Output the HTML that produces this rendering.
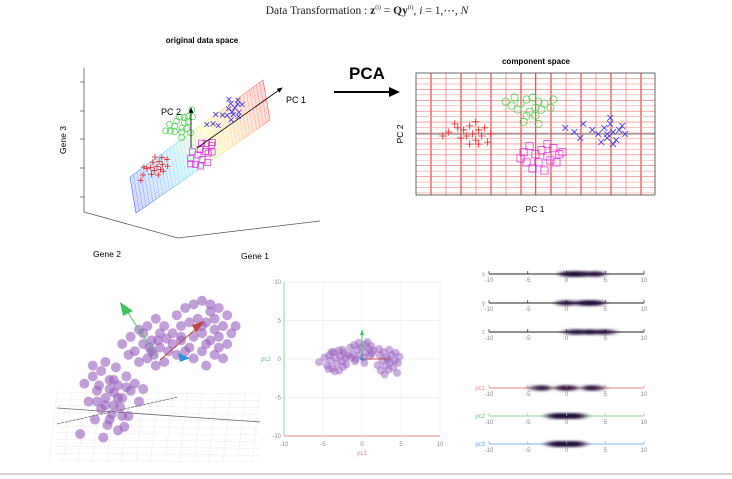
<!DOCTYPE html>
<html><head><meta charset="utf-8">
<style>
html,body{margin:0;padding:0;background:#fff;}
svg{display:block;font-family:"Liberation Sans",sans-serif;}
.tk{font-size:6px;fill:#888;}
</style></head>
<body>
<svg id="root" width="732" height="479" viewBox="0 0 732 479" xmlns="http://www.w3.org/2000/svg">
<defs>
 <linearGradient id="pg" x1="130" y1="195" x2="266" y2="100" gradientUnits="userSpaceOnUse">
  <stop offset="0" stop-color="#1030ff"/><stop offset="0.35" stop-color="#30d0ff"/>
  <stop offset="0.6" stop-color="#ffee30"/><stop offset="1" stop-color="#ff2020"/>
 </linearGradient>
 <filter id="blur" x="-50%" y="-200%" width="200%" height="500%"><feGaussianBlur stdDeviation="3 1.2"/></filter>
 <marker id="ah" markerWidth="8" markerHeight="8" refX="6" refY="3" orient="auto"><path d="M0,0 L7,3 L0,6 z" fill="#000"/></marker>
</defs>

<text x="367" y="14" text-anchor="middle" font-family="Liberation Serif,serif" font-size="11.5" fill="#222">Data Transformation : <tspan font-weight="bold">z</tspan><tspan font-size="6" dy="-5">(i)</tspan><tspan dy="5"> = </tspan><tspan font-weight="bold">Qy</tspan><tspan font-size="6" dy="-5">(i)</tspan><tspan dy="5">,  </tspan><tspan font-style="italic">i</tspan> = 1,⋯, <tspan font-style="italic">N</tspan></text>

<g>
 <text x="202" y="43" text-anchor="middle" font-size="8" font-weight="bold">original data space</text>
 <g stroke="#555" stroke-width="0.8" fill="none">
  <path d="M84,68 L84,212 L178,238 L320,221"/>
  <path d="M80,82H84M80,111H84M80,139H84M80,168H84M80,197H84"/>
 </g>
 <text x="66" y="140" font-size="8.5" transform="rotate(-90 66 140)" text-anchor="middle">Gene 3</text>
 <text x="107" y="257" font-size="8.5" text-anchor="middle">Gene 2</text>
 <text x="255" y="259" font-size="8.5" text-anchor="middle">Gene 1</text>
 <g id="plane"></g>
 <g id="orig-points"></g>
 <line x1="197" y1="148" x2="282" y2="88" stroke="#000" stroke-width="0.8" marker-end="url(#ah)"/>
 <line x1="191" y1="148" x2="191" y2="108" stroke="#000" stroke-width="0.8" marker-end="url(#ah)"/>
 <text x="296" y="103" font-size="9" text-anchor="middle">PC 1</text>
 <text x="171" y="115" font-size="9" text-anchor="middle">PC 2</text>
</g>

<text x="367" y="79" text-anchor="middle" font-size="17" font-weight="bold">PCA</text>
<g><line x1="334" y1="92" x2="391" y2="92" stroke="#000" stroke-width="2"/><path d="M389,87 L400,92 L389,97 z" fill="#000"/></g>

<g>
 <text x="536" y="64" text-anchor="middle" font-size="8" font-weight="bold">component space</text>
 <g id="comp-grid"></g>
 <g id="comp-points"></g>
 <rect x="416" y="73" width="239" height="122" fill="none" stroke="#444" stroke-width="0.8"/>
 <text x="403" y="134" font-size="8.5" transform="rotate(-90 403 134)" text-anchor="middle">PC 2</text>
 <text x="535" y="212" font-size="8.5" text-anchor="middle">PC 1</text>
</g>

<g id="scene3d"></g>
<g id="pcplot"></g>
<g id="strips"></g>
<line x1="0" y1="474" x2="732" y2="474" stroke="#aaa" stroke-width="1"/>
</svg>
<script>
const compRed=[[-2.9,0.1],[-2.6,0.3],[-2.4,0.2],[-2.3,-0.1],[-2.2,0.4],[-2.1,0.0],[-2.0,-0.3],[-1.9,0.2],[-1.8,-0.1],[-1.7,0.3],[-1.6,-0.4],[-2.5,-0.2],[-2.2,-0.5],[-1.9,-0.5],[-2.7,0.5],[-3.1,-0.1],[-2.0,0.6],[-1.5,0.0]];
const compGreen=[[-1.0,1.6],[-0.7,1.8],[-0.5,1.5],[-0.3,1.7],[-0.1,1.8],[0.1,1.6],[0.3,1.5],[0.5,1.3],[-0.6,1.2],[-0.2,1.1],[0.0,0.9],[0.2,1.2],[-0.4,0.6],[0.1,0.5],[-0.8,1.4],[0.6,1.7],[0.0,1.3],[-0.3,0.9]];
const compBlue=[[1.0,0.3],[1.3,0.1],[1.6,0.5],[1.9,0.2],[2.1,0.0],[2.3,0.3],[2.4,-0.2],[2.5,0.5],[2.6,0.1],[2.7,-0.3],[2.8,0.2],[2.5,0.8],[3.0,0.0],[2.2,-0.4],[1.5,-0.2],[2.9,0.4],[2.4,0.0],[2.6,-0.5]];
const compMagenta=[[-0.4,-0.9],[-0.2,-0.6],[0.0,-1.0],[0.2,-0.8],[0.4,-1.1],[0.6,-0.7],[0.8,-1.0],[0.5,-1.3],[0.1,-1.4],[-0.3,-1.4],[0.3,-1.8],[0.7,-1.4],[-0.1,-1.7],[0.4,-0.5],[0.9,-0.9],[-0.5,-1.2]];
const sceneLower=[[14,48],[18,52],[22,55],[26,50],[30,47],[34,52],[20,44],[24,40],[28,43],[32,40],[36,44],[40,38],[16,38],[22,34],[27,31],[31,35],[35,30],[19,28],[25,25],[30,22],[12,20],[23,18],[33,24],[38,48],[29,57],[24,60],[42,45],[18,58],[28,36],[21,47],[26,45],[30,40],[24,36],[34,46],[28,50],[20,38],[26,28],[32,30]];
const sceneMiddle=[[32,70],[36,74],[40,78],[44,80],[48,84],[52,80],[56,76],[60,72],[38,66],[42,70],[46,72],[50,68],[54,66],[58,64],[44,62],[48,58],[52,60],[40,60],[35,64],[46,66],[50,76],[42,76],[56,70],[62,66],[45,68],[49,72],[53,73],[47,64]];
const sceneUpper=[[58,86],[62,90],[66,92],[70,94],[74,92],[78,90],[82,86],[60,80],[64,82],[68,84],[72,82],[76,84],[80,80],[84,76],[66,74],[70,76],[74,72],[78,74],[82,70],[64,68],[70,66],[76,64],[80,62],[72,58],[66,62],[60,74],[86,80],[74,88],[70,80],[76,78],[72,70],[78,68]];
const pcLeft=[[-5.5,-0.4],[-4.8,0.2],[-4.5,-0.8],[-4.2,0.5],[-4,-0.2],[-3.8,-1.2],[-3.6,0.9],[-3.4,0.2],[-3.2,-0.6],[-3,1.1],[-2.9,-1.5],[-2.8,0.4],[-2.6,-0.3],[-2.4,-1],[-2.3,0.8],[-2.1,0.1],[-2,-0.7],[-1.8,0.5],[-3.5,-1.6],[-4.3,-1.3],[-2.5,1.2],[-3.9,0.9]];
const pcMiddle=[[-1.5,1.5],[-1.2,0.6],[-1,1.8],[-0.8,0],[-0.6,1.2],[-0.4,2.1],[-0.3,0.5],[-0.1,1.5],[0.2,0.2],[0.4,1.9],[0.5,0.9],[0.7,2.2],[0.9,1.3],[1,0.4],[1.2,1.7],[1.3,0.7],[-0.9,-0.3],[0.3,-0.5],[1.5,1.1],[-1.4,0.2]];
const pcRight=[[2,-0.8],[2.3,0.5],[2.4,-1.5],[2.6,-0.2],[2.8,0.9],[2.9,-2],[3,-0.9],[3.2,0.2],[3.4,-1.4],[3.5,1.2],[3.6,-0.5],[3.8,0.5],[4,-1.1],[4.2,-0.2],[4.3,0.8],[4.5,-1.8],[4.6,-0.5],[2.2,1.3],[3.3,-0.1],[4.8,0.3]];
const axisTicks=[-10,-5,0,5,10];
const stripNames=["x","y","z","pc1","pc2","pc3"];
const stripBlobs=[
 [[0,0.8],[1,1.0],[2,0.9],[3.2,0.6],[4,0.8]],
 [[-0.5,0.6],[0.3,0.7],[2,0.8],[3,1.0],[4,0.8]],
 [[0.5,0.6],[1.5,0.9],[3,1.0],[4.5,0.8],[5.5,0.6]],
 [[-4,0.5],[-3,0.9],[-0.5,0.8],[0.5,0.8],[3,0.9],[4,0.6]],
 [[-1,1.0],[0,1.0],[1,1.0],[-1.8,0.6],[1.8,0.5]],
 [[-1,1.0],[0,1.0],[1,1.0],[-1.8,0.6],[1.8,0.5]]
];
const NS="http://www.w3.org/2000/svg";
function mk(tag,attrs,parent){const e=document.createElementNS(NS,tag);for(const k in attrs)e.setAttribute(k,attrs[k]);parent.appendChild(e);return e;}

(function(){
 const g=document.getElementById('plane');
 const A=[136,213],B=[130,177],C=[263,80],D=[270,120];
 const p=mk('polygon',{points:[A,B,C,D].map(q=>q.join(',')).join(' '),fill:'url(#pg)','fill-opacity':'0.12',stroke:'url(#pg)','stroke-width':'0.6','stroke-opacity':'0.6'},g);
 
 
 for(let i=0;i<=40;i++){const t=i/40;
  const l=mk('line',{x1:A[0]+(D[0]-A[0])*t,y1:A[1]+(D[1]-A[1])*t,x2:B[0]+(C[0]-B[0])*t,y2:B[1]+(C[1]-B[1])*t,stroke:'url(#pg)','stroke-width':'0.4','stroke-opacity':'0.55'},g);
  
  }
 for(let i=0;i<=14;i++){const t=i/14;
  const l=mk('line',{x1:A[0]+(B[0]-A[0])*t,y1:A[1]+(B[1]-A[1])*t,x2:D[0]+(C[0]-D[0])*t,y2:D[1]+(C[1]-D[1])*t,stroke:'url(#pg)','stroke-width':'0.35','stroke-opacity':'0.45'},g);
  
  }
})();

function marker(g,kind,x,y,col,s){
 let e;
 if(kind==='plus'){e=mk('path',{d:`M${x-s},${y}H${x+s}M${x},${y-s}V${y+s}`,stroke:col,'stroke-width':'0.8',fill:'none'},g);}
 else if(kind==='x'){e=mk('path',{d:`M${x-s*0.8},${y-s*0.8}L${x+s*0.8},${y+s*0.8}M${x-s*0.8},${y+s*0.8}L${x+s*0.8},${y-s*0.8}`,stroke:col,'stroke-width':'0.8',fill:'none'},g);}
 else if(kind==='circle'){e=mk('circle',{cx:x,cy:y,r:s,stroke:col,'stroke-width':'0.7',fill:'none'},g);}
 else {e=mk('rect',{x:x-s,y:y-s,width:2*s,height:2*s,stroke:col,'stroke-width':'0.7',fill:'none'},g);}
 return e;
}
const groups=[[compRed,'plus','#e02020'],[compGreen,'circle','#40d040'],[compBlue,'x','#3030e0'],[compMagenta,'square','#e020e0']];

(function(){
 const g=document.getElementById('orig-points');
 const ox=192,oy=141,u=[16.7,-12.2],v=[-6,-14];
 groups.forEach(([pts,kind,col])=>pts.forEach(p=>{
  const e=marker(g,kind,ox+p[0]*u[0]+p[1]*v[0],oy+p[0]*u[1]+p[1]*v[1],col,3);
  
  
 }));
})();

(function(){
 const gg=document.getElementById('comp-grid'),g=document.getElementById('comp-points');
 const sx=v=>535.5+v*29.9, sy=v=>134-v*20.3;
 for(let x=416+15;x<655;x+=15){const dark=((x-431)/15)%2===0;
  const l=mk('line',{x1:x,y1:73,x2:x,y2:195,stroke:dark?'#e02020':'#f07070','stroke-width':dark?'1':'0.7'},gg);
  
  }
 for(let y=78.5,i=0;y<195;y+=5.45,i++){
  const l=mk('line',{x1:416,y1:y,x2:655,y2:y,stroke:i%2?'#f4a0a0':'#ec7070','stroke-width':'0.6'},gg);
  
  }
 const c1=mk('line',{x1:sx(0),y1:73,x2:sx(0),y2:195,stroke:'#777','stroke-width':'0.9'},gg);
 
 
 const c2=mk('line',{x1:416,y1:sy(0),x2:655,y2:sy(0),stroke:'#777','stroke-width':'0.9'},gg);
 
 
 groups.forEach(([pts,kind,col])=>pts.forEach(p=>{
  const e=marker(g,kind,sx(p[0]),sy(p[1]),col,3.6);
  
  
 }));
})();

(function(){
 const g=document.getElementById('scene3d');
 for(let i=0;i<=10;i++){const t=i/10;
  const l=mk('line',{x1:57,y1:392+t*68,x2:260,y2:392+t*68+2,stroke:'#eaeaea','stroke-width':'0.5'},g);
  
  }
 for(let i=0;i<=14;i++){const x=57+i*14.5;
  const l=mk('line',{x1:x,y1:392,x2:x-8,y2:462,stroke:'#eaeaea','stroke-width':'0.5'},g);
  
  }
 const a1=mk('line',{x1:57,y1:408,x2:260,y2:422,stroke:'#666','stroke-width':'0.8'},g);
 
 
 const a2=mk('line',{x1:57,y1:424,x2:178,y2:397,stroke:'#666','stroke-width':'0.8','stroke-dasharray':'3 1'},g);
 
 
 const sx=v=>55+v*2.1, sy=v=>470-v*1.8;
 [sceneLower,sceneMiddle,sceneUpper].forEach(pts=>pts.forEach(p=>{
  const c=mk('circle',{cx:sx(p[0]),cy:sy(p[1]),r:5,fill:'#9a5fc0','fill-opacity':'0.6'},g);
  
  
 }));
 const ga=mk('line',{x1:158,y1:358,x2:126,y2:310,stroke:'#50c070','stroke-width':'1'},g);
 
 
 const gh=mk('path',{d:'M120,302 L133,311 L123,316 z',fill:'#40c060'},g);
 
 
 const ra=mk('line',{x1:160,y1:360,x2:198,y2:327,stroke:'#c04848','stroke-width':'1'},g);
 
 
 const rh=mk('path',{d:'M205,321 L196,333 L192,325 z',fill:'#c04848'},g);
 
 
 const bh=mk('path',{d:'M178,353 L190,358 L180,362 z',fill:'#3090e0'},g);
 
 
})();

(function(){
 const g=document.getElementById('pcplot');
 const sx=v=>362+v*7.8, sy=v=>359-v*7.7;
 axisTicks.forEach(t=>{
  const v=mk('line',{x1:sx(t),y1:sy(10),x2:sx(t),y2:sy(-10),stroke:'#eee','stroke-width':'0.7'},g);
  
  
  const h=mk('line',{x1:sx(-10),y1:sy(t),x2:sx(10),y2:sy(t),stroke:'#eee','stroke-width':'0.7'},g);
  
  
  const tx=mk('text',{x:sx(t),y:sy(-10)+10,class:'tk','text-anchor':'middle'},g);tx.textContent=t;
  
  
  const ty=mk('text',{x:sx(-10)-3,y:sy(t)+2,class:'tk','text-anchor':'end'},g);ty.textContent=t;
  
  
 });
 const ya=mk('line',{x1:sx(-10),y1:sy(10),x2:sx(-10),y2:sy(-10),stroke:'#7ad88a','stroke-width':'0.9'},g);
 
 
 const xa=mk('line',{x1:sx(-10),y1:sy(-10),x2:sx(10),y2:sy(-10),stroke:'#e88a80','stroke-width':'0.9'},g);
 
 
 const lx=mk('text',{x:sx(0),y:sy(-10)+19,class:'tk','text-anchor':'middle',style:'fill:#e88a80'},g);lx.textContent='pc1';
 
 
 const ly=mk('text',{x:261,y:sy(0)+2,class:'tk',style:'fill:#5cc870'},g);ly.textContent='pc2';
 
 
 [pcLeft,pcMiddle,pcRight].forEach(pts=>pts.forEach(p=>{
  const c=mk('circle',{cx:sx(p[0]),cy:sy(p[1]),r:4,fill:'#9a5fc0','fill-opacity':'0.5'},g);
  
  
 }));
 const ra=mk('line',{x1:sx(0),y1:sy(0),x2:sx(3.5),y2:sy(0),stroke:'#c05050','stroke-width':'0.9'},g);
 
 
 const ga=mk('line',{x1:sx(0),y1:sy(0),x2:sx(0),y2:sy(3.3),stroke:'#40c060','stroke-width':'0.9'},g);
 
 
 const gh=mk('path',{d:`M${sx(0)-2},${sy(3.1)} L${sx(0)},${sy(3.9)} L${sx(0)+2},${sy(3.1)} z`,fill:'#40c060'},g);
 
 
 const bo=mk('circle',{cx:sx(0),cy:sy(0),r:1.8,fill:'#3090e0'},g);
 
 
})();

(function(){
 const g=document.getElementById('strips');
 const sx=v=>566.5+v*7.75;
 const rowY=[274,303,332,388,416,444];
 const cols=['#222','#222','#222','#e88a80','#8ad89a','#80b4ec'];
 const labCols=['#999','#999','#999','#e88a80','#5cc870','#6aa0e8'];
 stripNames.forEach((nm,i)=>{
  const y=rowY[i];
  const ax=mk('line',{x1:sx(-10),y1:y,x2:sx(10),y2:y,stroke:cols[i],'stroke-width':'0.9'},g);
  
  
  stripBlobs[i].forEach(b=>{
   const e=mk('ellipse',{cx:sx(b[0]),cy:y,rx:8,ry:2.6,fill:'#1e0838','fill-opacity':b[1],filter:'url(#blur)'},g);
   
   
  });
  axisTicks.forEach(t=>{
   const tl=mk('line',{x1:sx(t),y1:y,x2:sx(t),y2:y-3,stroke:cols[i],'stroke-width':'0.7'},g);
   
   
   const tx=mk('text',{x:sx(t),y:y+8,class:'tk','text-anchor':'middle'},g);tx.textContent=t;
   
   
  });
  const lb=mk('text',{x:sx(-10)-4,y:y+2,class:'tk','text-anchor':'end',style:'fill:'+labCols[i]},g);lb.textContent=nm;
  
  
 });
})();
</script>
</body></html>
